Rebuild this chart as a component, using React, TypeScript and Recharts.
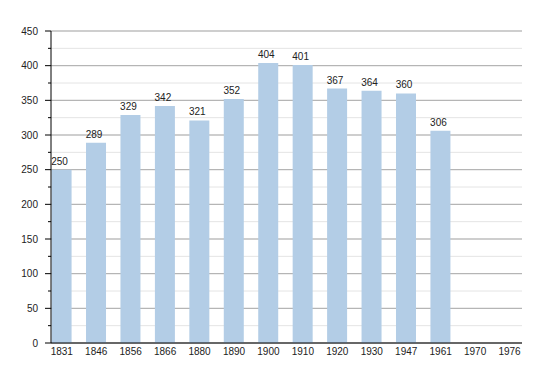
import React from 'react';
import { BarChart, Bar, XAxis, YAxis, CartesianGrid, LabelList } from 'recharts';

const years = ['1831', '1846', '1856', '1866', '1880', '1890', '1900', '1910', '1920', '1930', '1947', '1961', '1970', '1976'];
const population: (number | null)[] = [250, 289, 329, 342, 321, 352, 404, 401, 367, 364, 360, 306, null, null];
const yTicks = [0, 25, 50, 75, 100, 125, 150, 175, 200, 225, 250, 275, 300, 325, 350, 375, 400, 425, 450];
const yMajor = [0, 50, 100, 150, 200, 250, 300, 350, 400, 450];

const data = years.map((y, i) => ({ idx: i, year: y, value: population[i] }));
const xTicks = years.map((_, i) => i);

const FONT = '"Liberation Sans", Arial, Helvetica, sans-serif';

const YTick = (props: any) => {
  const { x, y, payload } = props;
  const v = payload.value as number;
  const major = v % 50 === 0;
  return (
    <g>
      <line x1={x + (major ? 7 : 10)} x2={x + 13} y1={y} y2={y} stroke="#000" strokeWidth={1} />
      {major && (
        <text x={x} y={y} dy="0.36em" textAnchor="end" fontSize={10} fontFamily={FONT} fill="#222">
          {v}
        </text>
      )}
    </g>
  );
};

const XTick = (props: any) => {
  const { x, y, payload } = props;
  return (
    <text x={x} y={y} textAnchor="middle" fontSize={10} fontFamily={FONT} fill="#222">
      {years[payload.value]}
    </text>
  );
};

export default function App() {
  return (
    <div style={{ position: 'absolute', left: 0, top: 0, width: 550, height: 373, background: '#fff' }}>
      <BarChart width={550} height={373} data={data} margin={{ top: 31, right: 28, bottom: 0, left: 0 }}>
        <CartesianGrid vertical={false} stroke="#e4e4e4" />
        <CartesianGrid vertical={false} stroke="#ababab" horizontalValues={yMajor} />
        <XAxis
          dataKey="idx"
          type="number"
          domain={[-0.3136, 13.362]}
          ticks={xTicks}
          interval={0}
          height={30}
          tickLine={false}
          tickSize={6}
          tickMargin={6}
          axisLine={{ stroke: '#000' }}
          tick={<XTick />}
          allowDataOverflow
        />
        <YAxis
          type="number"
          domain={[0, 450]}
          ticks={yTicks}
          interval={0}
          width={51}
          tickLine={false}
          tickSize={6}
          tickMargin={7}
          axisLine={{ stroke: '#000' }}
          tick={<YTick />}
        />
        <Bar dataKey="value" fill="#b3cde6" barSize={20} isAnimationActive={false}>
          <LabelList dataKey="value" position="top" offset={5} dx={-2} fontSize={10} fontFamily={FONT} fill="#222" />
        </Bar>
      </BarChart>
    </div>
  );
}
